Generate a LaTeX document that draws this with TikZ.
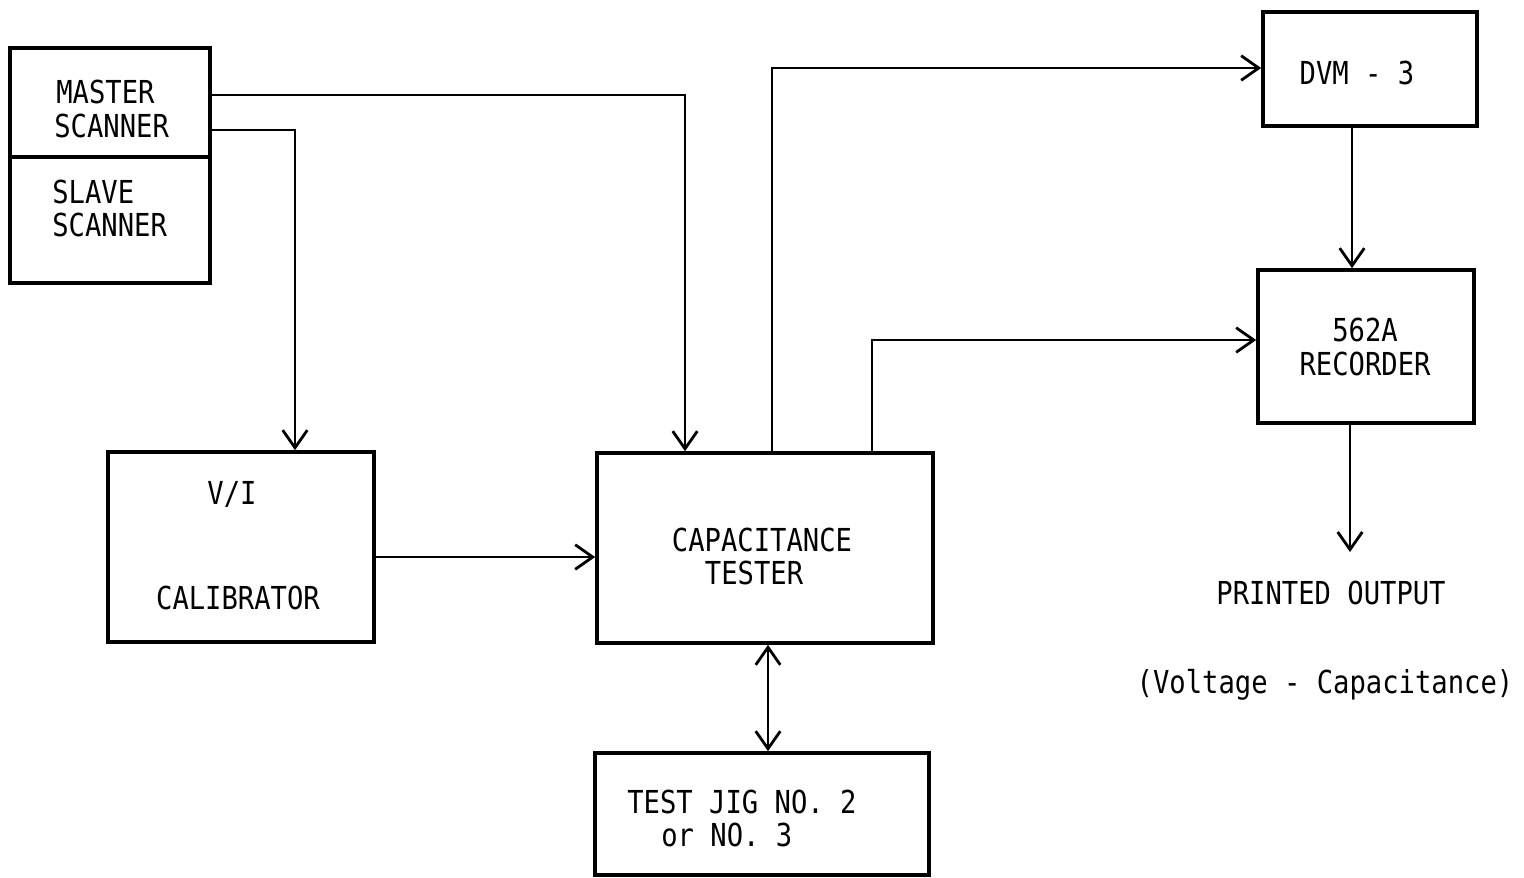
\documentclass[tikz,border=0pt]{standalone}
\usepackage{fontspec}
\newfontfamily\tw[FakeStretch=0.86]{DejaVu Sans Mono}
\usetikzlibrary{arrows.meta}
\begin{document}
\begin{tikzpicture}[x=0.02cm,y=-0.02cm,
  box/.style={draw,line width=2.1pt,inner sep=0pt,rectangle},
  conn/.style={line width=1.5pt,-{Straight Barb[length=10pt,width=14pt,line width=1.6pt]}},
  both/.style={line width=1.5pt,{Straight Barb[length=10pt,width=14pt,line width=1.6pt]}-{Straight Barb[length=10pt,width=14pt,line width=1.6pt]}},
  txt/.style={font=\tw\fontsize{18}{19}\selectfont,inner sep=0pt}]
\useasboundingbox (0,0) rectangle (1524,877);
% boxes
\node[box,minimum width=4cm,minimum height=4.7cm] (scan) at (110,165.5) {};
\draw[line width=2.1pt] (scan.west |- 0,157) -- (scan.east |- 0,157);
\node[box,minimum width=4.28cm,minimum height=2.28cm] (dvm) at (1370,69) {};
\node[box,minimum width=4.32cm,minimum height=3.06cm] (rec) at (1366,346.5) {};
\node[box,minimum width=5.32cm,minimum height=3.8cm] (cal) at (241,547) {};
\node[box,minimum width=6.72cm,minimum height=3.8cm] (cap) at (765,548) {};
\node[box,minimum width=6.68cm,minimum height=2.44cm] (jig) at (762,814) {};
% texts
\node[txt,anchor=west] (t1) at (56,92) {MASTER};
\node[txt,anchor=west] (t2) at (54,126) {SCANNER};
\node[txt,anchor=west] (t3) at (52,192) {SLAVE};
\node[txt,anchor=west] (t4) at (52,225) {SCANNER};
\node[txt] (t5) at (1357,73) {DVM - 3};
\node[txt] (t6) at (1365,330) {562A};
\node[txt] (t7) at (1365,364) {RECORDER};
\node[txt] (t8) at (232,494) {V/I};
\node[txt] (t9) at (238,598) {CALIBRATOR};
\node[txt] (t10) at (762,540) {CAPACITANCE};
\node[txt] (t11) at (754,573) {TESTER};
\node[txt,anchor=west] (t12) at (627,802) {TEST JIG NO. 2};
\node[txt,anchor=west] (t13) at (661,835) {or NO. 3};
\node[txt] (t14) at (1331,593) {PRINTED OUTPUT};
\node[txt] (t15) at (1325,685) {(Voltage - Capacitance)};
% connectors
\coordinate (out) at (1350,552);
\draw[conn] (scan.east |- 0,95) -| (cap.north -| 685,0);
\draw[conn] (scan.east |- 0,130) -| (cal.north -| 295,0);
\draw[conn] (cap.north -| 772,0) |- (dvm.west |- 0,68);
\draw[conn] (cap.north -| 872,0) |- (rec.west |- 0,340);
\draw[conn] (dvm.south -| 1352,0) -- (rec.north -| 1352,0);
\draw[conn] (rec.south -| 1350,0) -- (out);
\draw[conn] (cal.east |- 0,557) -- (cap.west |- 0,557);
\draw[both] (cap.south -| 768,0) -- (jig.north -| 768,0);
\end{tikzpicture}
\end{document}
